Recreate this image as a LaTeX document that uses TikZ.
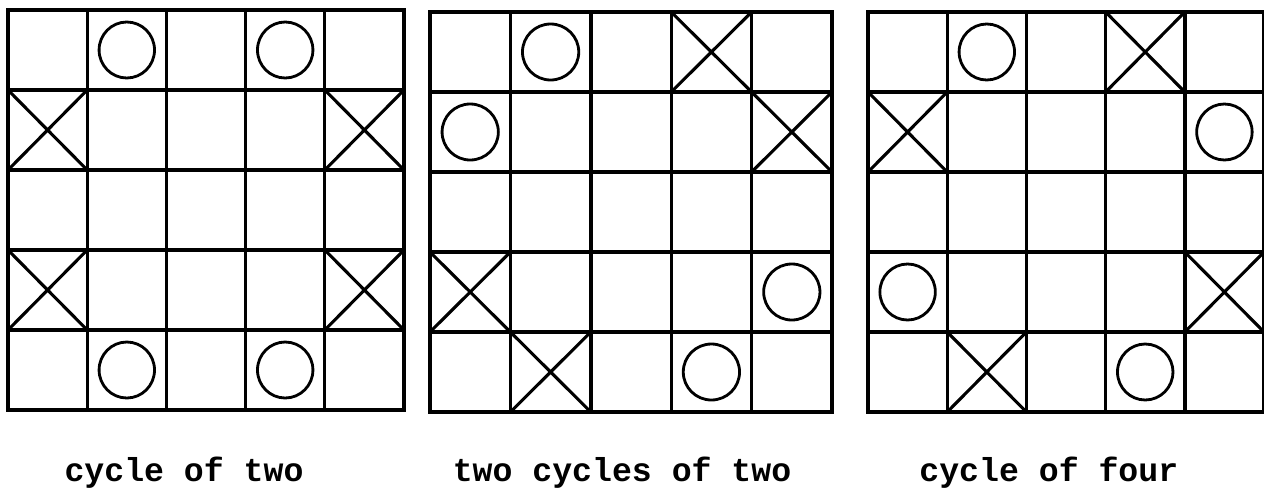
\documentclass[tikz,border=0pt]{standalone}
\usepackage{fontspec}
\newfontfamily\typefont{Liberation Mono}
\usetikzlibrary{positioning}
\tikzset{
  board/.style={line width=1.2pt, line cap=rect},
  ring/.style={line width=1pt},
  cross/.style={line width=1.1pt},
  caption/.style={font=\typefont\bfseries\fontsize{11.8}{14}\selectfont, inner sep=0pt},
}

\begin{document}
\begin{tikzpicture}
\useasboundingbox (0,0) rectangle (15.8,-6.0875);

% Board: cycle of two
\begin{scope}[shift={(0.1,-0.125)}, xscale=0.99]
  \draw[board] (0,-5) grid (5,0);
  \foreach \c/\r in {1/0,3/0,1/4,3/4}
    \draw[ring] (\c+0.5,-\r-0.5) circle (0.35);
  \foreach \c/\r in {0/1,4/1,0/3,4/3}
    \draw[cross] (\c,-\r) -- (\c+1,-\r-1) (\c+1,-\r) -- (\c,-\r-1);
\end{scope}

% Board: two cycles of two
\begin{scope}[shift={(5.375,-0.15)}, xscale=1.005]
  \draw[board] (0,-5) grid (5,0);
  \foreach \c/\r in {1/0,0/1,4/3,3/4}
    \draw[ring] (\c+0.5,-\r-0.5) circle (0.35);
  \foreach \c/\r in {3/0,4/1,0/3,1/4}
    \draw[cross] (\c,-\r) -- (\c+1,-\r-1) (\c+1,-\r) -- (\c,-\r-1);
\end{scope}

% Board: cycle of four
\begin{scope}[shift={(10.85,-0.15)}, xscale=0.99]
  \draw[board] (0,-5) grid (5,0);
  \foreach \c/\r in {1/0,4/1,0/3,3/4}
    \draw[ring] (\c+0.5,-\r-0.5) circle (0.35);
  \foreach \c/\r in {3/0,0/1,4/3,1/4}
    \draw[cross] (\c,-\r) -- (\c+1,-\r-1) (\c+1,-\r) -- (\c,-\r-1);
\end{scope}

% Captions
\node[caption] (capTwo) at (2.3,-5.91) {cycle of two};
\node[caption] (capTwoTwo) at (7.775,-5.91) {two cycles of two};
\node[caption] (capFour) at (13.11,-5.91) {cycle of four};

\end{tikzpicture}
\end{document}
